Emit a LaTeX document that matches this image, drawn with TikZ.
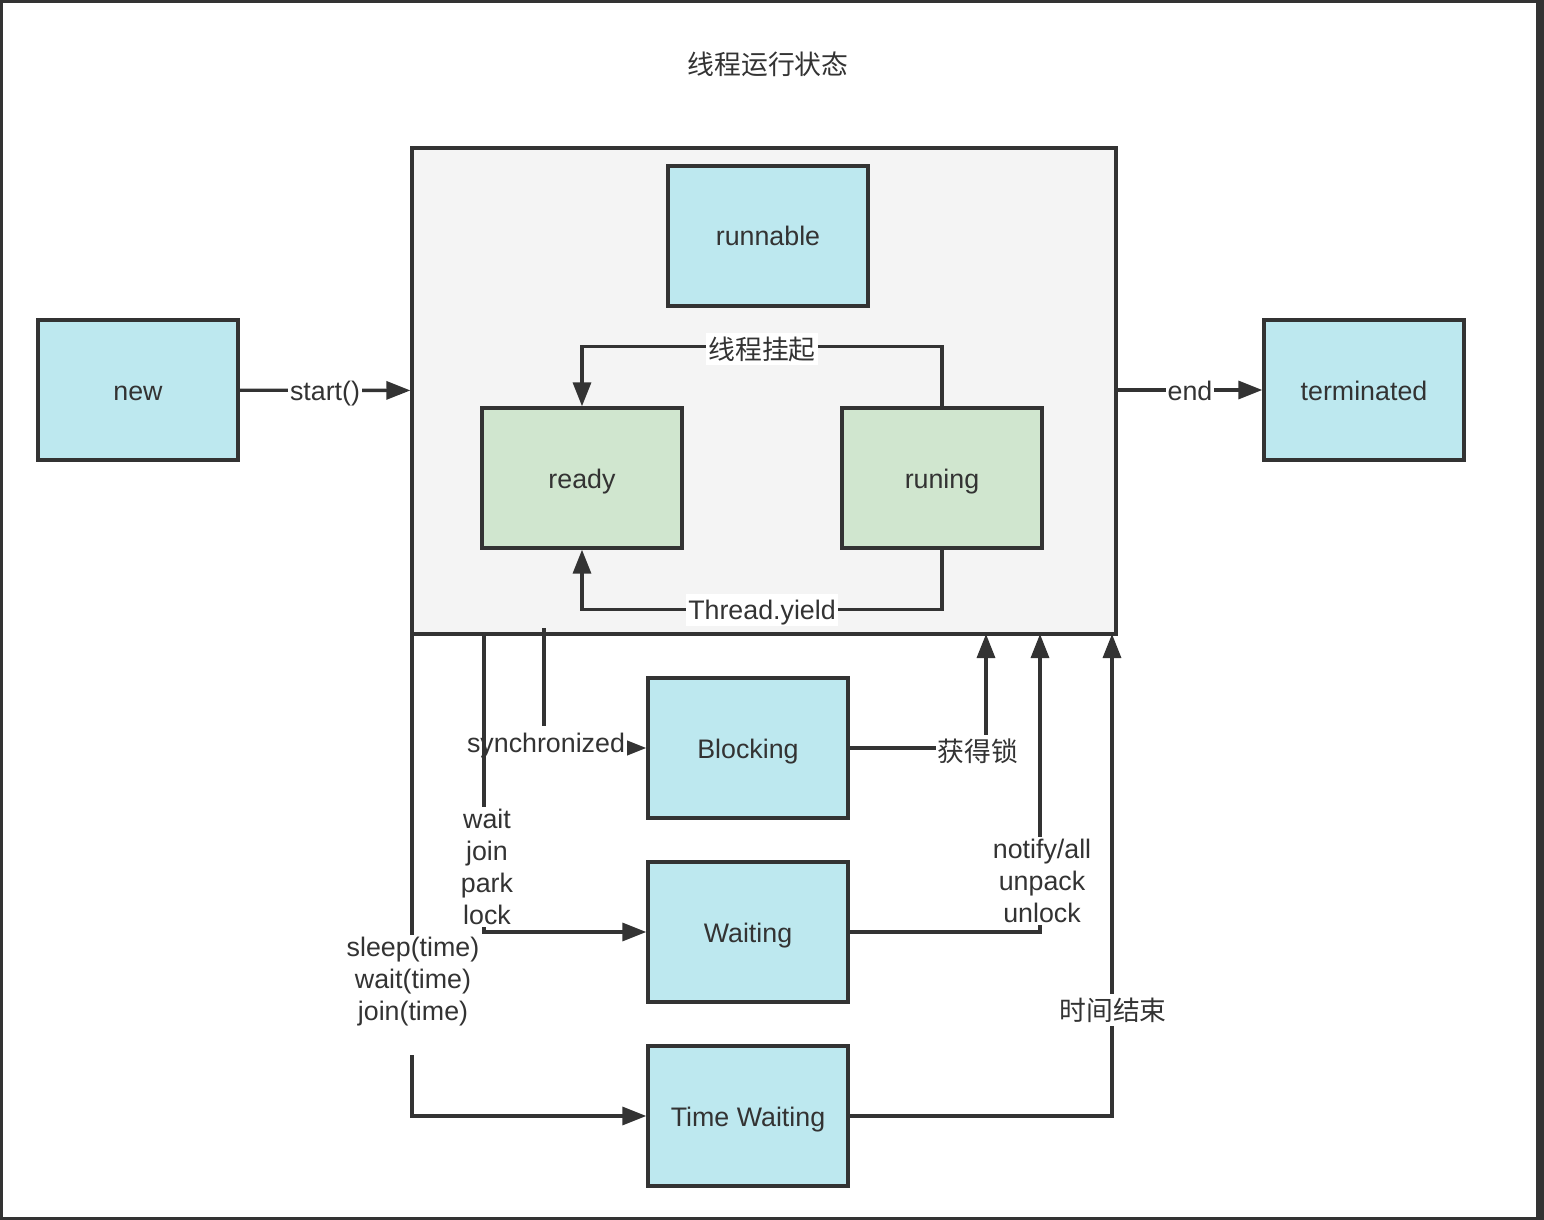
\documentclass[tikz,border=0pt]{standalone}
\usepackage{fontspec}
\setmainfont{Liberation Sans}
\newfontfamily\cjk{Noto Sans CJK SC}
\usetikzlibrary{arrows.meta}
\definecolor{ink}{HTML}{333333}
\definecolor{cyanbox}{HTML}{BDE8EF}
\definecolor{greenbox}{HTML}{D0E6CF}
\definecolor{panelgray}{HTML}{F4F4F4}
\begin{document}
\begin{tikzpicture}[x=0.5pt,y=-0.5pt,
  txt/.style={text=ink, font=\fontsize{13.4}{16}\selectfont},
  oneline/.style={text height=12pt, text depth=2pt},
  statebox/.style={txt, oneline, draw=ink, line width=1.65pt, minimum width=100pt, minimum height=70pt, inner sep=0pt},
  cyanstate/.style={statebox, fill=cyanbox},
  greenstate/.style={statebox, fill=greenbox},
  conn/.style={draw=ink, line width=1.65pt, -{Triangle[length=12pt,width=9pt]}},
  lbl/.style={txt, fill=white, inner sep=1pt, align=center},
  lbl1/.style={lbl, oneline}
]
\useasboundingbox (0,0) rectangle (1544,1220);
% outer frame
\fill[white] (0,0) rectangle (1544,1220);
\draw[ink, line width=1.5pt] (1,1.5) rectangle (1538,1218.5);
\fill[ink] (1536,0) rectangle (1544,1220);
% title
\node[txt, oneline] (title) at (768,65) {\cjk 线程运行状态};
% container
\node[draw=ink, fill=panelgray, line width=1.65pt, minimum width=352pt, minimum height=243pt, inner sep=0pt] (panel) at (764,391) {};
% states
\node[cyanstate] (runnable) at (768,236) {runnable};
\node[cyanstate] (new) at (138,390) {new};
\node[cyanstate] (term) at (1364,390) {terminated};
\node[greenstate] (ready) at (582,478) {ready};
\node[greenstate] (runing) at (942,478) {runing};
\node[cyanstate] (blocking) at (748,748) {Blocking};
\node[cyanstate] (waiting) at (748,932) {Waiting};
\node[cyanstate] (timewait) at (748,1116) {Time Waiting};
% free end points on the container
\coordinate (s1) at (544,628);
\coordinate (w1) at (484,634);
\coordinate (t1) at (412,634);
\coordinate (b1) at (986,634);
\coordinate (n1) at (1040,634);
\coordinate (e1) at (1112,634);
% connectors
\draw[conn] (new) -- node[lbl1] (lstart) {start()} (panel);
\draw[conn] (panel.east |- term.west) -- node[lbl1] (lend) {end} (term);
\draw[conn] (runing.north) -- ++(0,-60) -| node[lbl1, pos=0.25, yshift=-1.5pt] (lsusp) {\cjk 线程挂起} (ready.north);
\draw[conn] (runing.south) -- ++(0,60) -| node[lbl1, pos=0.25] (lyield) {Thread.yield} (ready.south);
\draw[conn] (s1) |- node[lbl1, pos=0.5, yshift=3pt, xshift=1pt] (lsync) {synchronized} (blocking.west);
\draw[conn] (w1) |- node[lbl, pos=0.5, yshift=32.5pt, xshift=1.5pt] (lwait) {wait\\join\\park\\lock} (waiting.west);
\draw[conn] (t1) |- node[lbl, pos=0.5, yshift=60.5pt, xshift=0.5pt] (lsleep) {sleep(time)\\wait(time)\\join(time)\\\mbox{}} (timewait.west);
\draw[conn] (blocking.east) -| node[lbl1, pos=0.5, xshift=-4pt, yshift=-1.5pt] (llock) {\cjk 获得锁} (b1);
\draw[conn] (waiting.east) -| node[lbl, pos=0.5, yshift=25.5pt, xshift=1pt] (lnotify) {notify/all\\unpack\\unlock} (n1);
\draw[conn] (timewait.east) -| node[lbl1, pos=0.5, yshift=53pt, xshift=0.5pt] (ltime) {\cjk 时间结束} (e1);
\end{tikzpicture}
\end{document}
